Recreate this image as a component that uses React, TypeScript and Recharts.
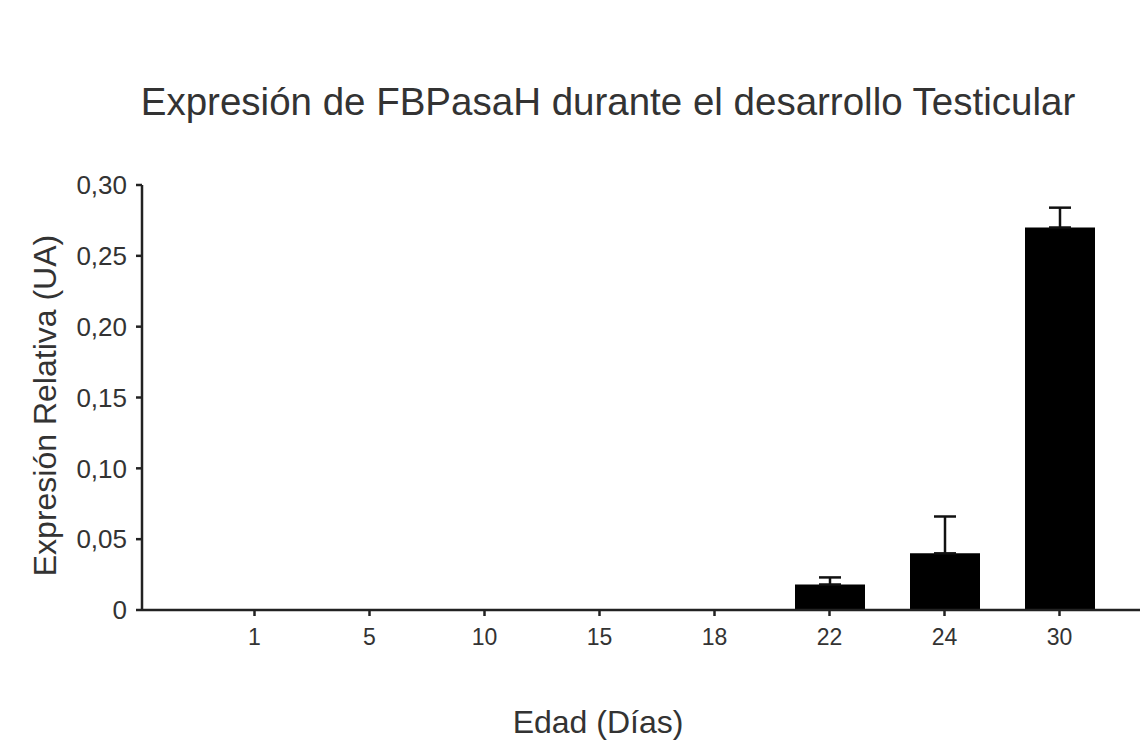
import React from "react";
import { Bar, BarChart, ErrorBar, XAxis, YAxis } from "recharts";

const dias = ["1", "5", "10", "15", "18", "22", "24", "30"];
const expresion = [0, 0, 0, 0, 0, 0.018, 0.04, 0.27];
const errorSup = [null, null, null, null, null, 0.005, 0.026, 0.014];
const yTicks = [0, 0.05, 0.1, 0.15, 0.2, 0.25, 0.3];

const data = dias.map((d, i) => ({
  dia: d,
  valor: expresion[i],
  err: errorSup[i] == null ? undefined : [0, errorSup[i]],
}));

const font = "'Liberation Sans', Arial, sans-serif";
const ink = "#333";

const fmt = (v: number) => (v === 0 ? "0" : v.toFixed(2).replace(".", ","));

export default function App() {
  return (
    <div style={{ position: "absolute", left: 0, top: 0, width: 1144, height: 749, background: "#fff", fontFamily: font }}>
      <div
        style={{
          position: "absolute",
          left: 608,
          top: 83,
          transform: "translateX(-50%)",
          whiteSpace: "nowrap",
          fontSize: 38.5,
          lineHeight: 1,
          color: ink,
        }}
      >
        Expresión de FBPasaH durante el desarrollo Testicular
      </div>
      <BarChart width={1144} height={749} data={data} margin={{ top: 185, right: 4, bottom: 0, left: 0 }}>
        <XAxis
          dataKey="dia"
          height={139}
          padding={{ left: 55, right: 23 }}
          stroke="#222"
          strokeWidth={2.5}
          tickSize={6}
          tickMargin={13}
          tick={{ fill: ink, fontSize: 23, fontFamily: font }}
          label={{ value: "Edad (Días)", position: "insideBottom", offset: 16, dx: -43, fill: ink, fontSize: 32, fontFamily: font }}
        />
        <YAxis
          width={142}
          domain={[0, 0.3]}
          ticks={yTicks}
          tickFormatter={fmt}
          stroke="#222"
          strokeWidth={2.5}
          tickSize={6}
          tickMargin={9}
          tick={{ fill: ink, fontSize: 26, fontFamily: font }}
          label={{ value: "Expresión Relativa (UA)", angle: -90, position: "center", dx: -26, dy: 8, fill: ink, fontSize: 32, fontFamily: font }}
        />
        <Bar dataKey="valor" fill="#000" barSize={70} isAnimationActive={false}>
          <ErrorBar dataKey="err" direction="y" width={11} stroke="#111" strokeWidth={2.5} isAnimationActive={false} />
        </Bar>
      </BarChart>
    </div>
  );
}
